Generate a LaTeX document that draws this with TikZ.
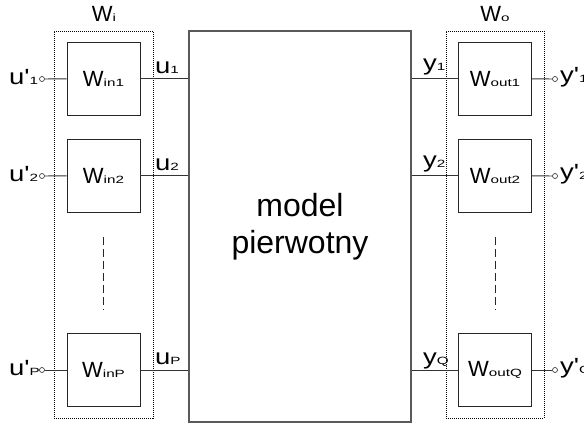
\documentclass[tikz,border=0pt]{standalone}
\usepackage{fontspec}
\setmainfont{Liberation Sans}
\usepackage{graphicx}
\newcommand{\subs}[1]{{\fontsize{10.5}{10.5}\selectfont\scalebox{1.45}[1]{#1}}}
\newcommand{\Wlab}[1]{{\fontsize{22}{22}\selectfont W}\subs{#1}}
\newcommand{\sig}[2]{{\fontsize{22}{22}\selectfont\scalebox{1.25}[1]{#1}}\subs{#2}}
\begin{document}
\begin{tikzpicture}[x=1pt,y=-1pt,
  blk/.style={draw=black!85, line width=0.9pt, minimum width=73pt, minimum height=73pt, inner sep=0pt},
  wire/.style={draw=black!80, line width=0.9pt},
  grp/.style={draw=black, line width=0.6pt, dash pattern=on 1pt off 1pt, inner sep=0pt},
  port/.style={circle, draw=black!85, fill=white, line width=0.6pt, minimum size=5pt, inner sep=0pt},
  vdash/.style={draw=black!85, line width=0.9pt, dash pattern=on 8pt off 4pt},
  lab/.style={anchor=base west, inner sep=0pt},
  glab/.style={anchor=base, inner sep=0pt}]
\useasboundingbox (0,0) rectangle (584,423);
% group boxes
\node[grp, minimum width=99pt, minimum height=387pt] (gi) at (103.5,224.5) {};
\node[grp, minimum width=98pt, minimum height=387pt] (go) at (495,224.5) {};
\node[glab] (gil) at (104,21) {\Wlab{i}};
\node[glab] (gol) at (495,21) {\Wlab{o}};
% model
\node[draw=black!65, line width=1.3pt, minimum width=222pt, minimum height=391pt, inner sep=0pt,
  align=center, font=\fontsize{32}{37}\selectfont] (model) at (300,226.5) {model\\pierwotny};
% input blocks
\node[blk] (win1) at (103.5,78.5) {\Wlab{in1}};
\node[blk] (win2) at (103.5,175.5) {\Wlab{in2}};
\node[blk] (winp) at (103.5,370) {\Wlab{inP}};
% output blocks
\node[blk] (wout1) at (495,78.5) {\Wlab{out1}};
\node[blk] (wout2) at (495,175.5) {\Wlab{out2}};
\node[blk] (woutq) at (495,370) {\Wlab{outQ}};
% ports
\node[port] (pi1) at (42,79) {};
\node[port] (pi2) at (42,176) {};
\node[port] (pip) at (42,370) {};
\node[port] (po1) at (555,79) {};
\node[port] (po2) at (555,176) {};
\node[port] (poq) at (555,370) {};
% wires
\draw[wire] (pi1) -- (win1);
\draw[wire] (pi2) -- (win2);
\draw[wire] (pip) -- (winp);
\draw[wire] (win1) -- (win1 -| model.west);
\draw[wire] (win2) -- (win2 -| model.west);
\draw[wire] (winp) -- (winp -| model.west);
\draw[wire] (wout1 -| model.east) -- (wout1);
\draw[wire] (wout2 -| model.east) -- (wout2);
\draw[wire] (woutq -| model.east) -- (woutq);
\draw[wire] (wout1) -- (po1);
\draw[wire] (wout2) -- (po2);
\draw[wire] (woutq) -- (poq);
% dashed continuation
\coordinate (di1) at (103,237);
\coordinate (di2) at (103,310);
\coordinate (do1) at (495,237);
\coordinate (do2) at (495,310);
\draw[vdash] (di1) -- (di2);
\draw[vdash] (do1) -- (do2);
% labels
\node[lab] (lu1p) at (9,84) {\sig{u\textquotesingle}{1}};
\node[lab] (lu2p) at (9,181) {\sig{u\textquotesingle}{2}};
\node[lab] (lupp) at (9,375) {\sig{u\textquotesingle}{P}};
\node[lab] (lu1) at (155,73) {\sig{u}{1}};
\node[lab] (lu2) at (155,170) {\sig{u}{2}};
\node[lab] (lup) at (155,364) {\sig{u}{P}};
\node[lab] (ly1) at (423,70) {\sig{y}{1}};
\node[lab] (ly2) at (423,167) {\sig{y}{2}};
\node[lab] (lyq) at (423,364) {\sig{y}{Q}};
\node[lab] (ly1p) at (560,82) {\sig{y\textquotesingle}{1}};
\node[lab] (ly2p) at (560,179) {\sig{y\textquotesingle}{2}};
\node[lab] (lyqp) at (560,373) {\sig{y\textquotesingle}{Q}};
\end{tikzpicture}
\end{document}
